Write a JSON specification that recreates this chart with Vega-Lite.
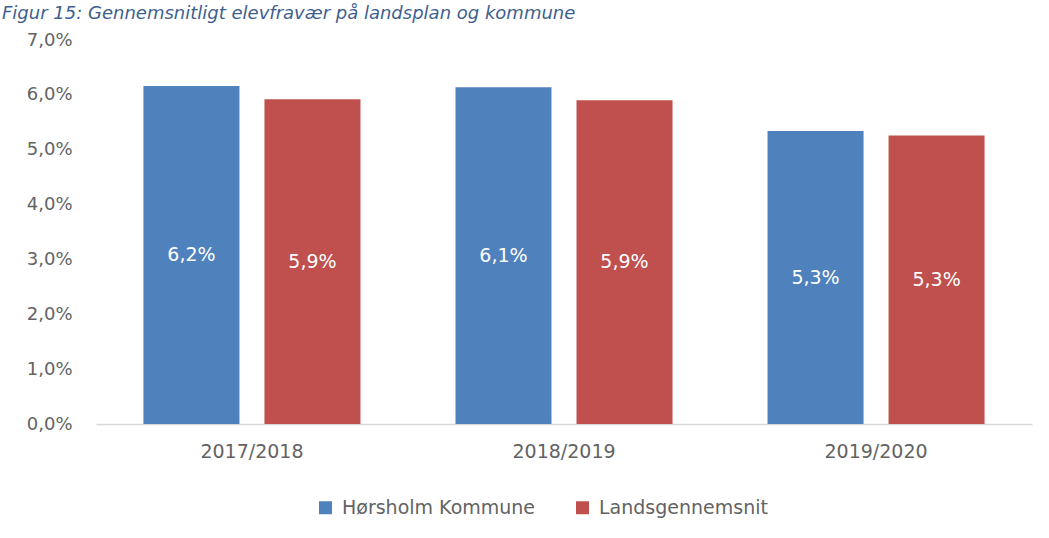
{
  "$schema": "https://vega.github.io/schema/vega-lite/v6.json",
  "width": 936,
  "height": 384,
  "autosize": {"type": "none"},
  "padding": {"left": 96, "top": 40, "right": 17, "bottom": 114},
  "background": "white",
  "title": {
    "text": "Figur 15: Gennemsnitligt elevfravær på landsplan og kommune",
    "anchor": "start",
    "frame": "group",
    "dx": -94,
    "dy": 32,
    "offset": 26,
    "baseline": "alphabetic",
    "font": "DejaVu Sans",
    "fontSize": 18,
    "fontStyle": "italic",
    "fontWeight": "normal",
    "color": "#3E5F8E"
  },
  "data": {
    "values": [
      {"year": "2017/2018", "series": "Hørsholm Kommune", "v": 0.0616},
      {"year": "2017/2018", "series": "Landsgennemsnit", "v": 0.0592},
      {"year": "2018/2019", "series": "Hørsholm Kommune", "v": 0.0614},
      {"year": "2018/2019", "series": "Landsgennemsnit", "v": 0.0590},
      {"year": "2019/2020", "series": "Hørsholm Kommune", "v": 0.0534},
      {"year": "2019/2020", "series": "Landsgennemsnit", "v": 0.0526}
    ]
  },
  "encoding": {
    "x": {
      "field": "year",
      "type": "nominal",
      "title": null,
      "scale": {"paddingInner": 0.3045, "paddingOuter": 0.152},
      "axis": {
        "labelAngle": 0,
        "labelFont": "DejaVu Sans",
        "labelFontSize": 19,
        "labelColor": "#636363",
        "labelPadding": 18,
        "ticks": false,
        "domainColor": "#D9D9D9",
        "domainWidth": 1.5,
        "grid": false
      }
    },
    "xOffset": {
      "field": "series",
      "type": "nominal",
      "scale": {"paddingInner": 0.2066, "paddingOuter": 0}
    }
  },
  "layer": [
    {
      "mark": {"type": "bar"},
      "encoding": {
        "y": {
          "field": "v",
          "type": "quantitative",
          "title": null,
          "scale": {"domain": [0, 0.07], "nice": false},
          "axis": {
            "format": ".1%",
            "values": [0, 0.01, 0.02, 0.03, 0.04, 0.05, 0.06, 0.07],
            "labelFont": "DejaVu Sans",
            "labelFontSize": 18,
            "labelColor": "#636363",
            "labelPadding": 24,
            "ticks": false,
            "domain": false,
            "grid": false
          }
        },
        "color": {
          "field": "series",
          "type": "nominal",
          "title": null,
          "scale": {
            "domain": ["Hørsholm Kommune", "Landsgennemsnit"],
            "range": ["#4F81BD", "#C0504D"]
          },
          "legend": {
            "orient": "none",
            "legendX": 220,
            "legendY": 458,
            "direction": "horizontal",
            "symbolType": "square",
            "symbolSize": 169,
            "symbolStrokeWidth": 0,
            "labelFont": "DejaVu Sans",
            "labelFontSize": 19,
            "labelColor": "#636363",
            "labelLimit": 0,
            "labelOffset": 7,
            "columnPadding": 37
          }
        }
      }
    },
    {
      "transform": [{"calculate": "datum.v / 2", "as": "mid"}],
      "mark": {
        "type": "text",
        "color": "white",
        "font": "DejaVu Sans",
        "fontSize": 19,
        "baseline": "middle",
        "align": "center"
      },
      "encoding": {
        "y": {"field": "mid", "type": "quantitative"},
        "text": {"field": "v", "type": "quantitative", "format": ".1%"}
      }
    }
  ],
  "config": {
    "locale": {
      "number": {
        "decimal": ",",
        "thousands": ".",
        "grouping": [3],
        "currency": ["", " kr."]
      }
    },
    "view": {"stroke": null}
  }
}
